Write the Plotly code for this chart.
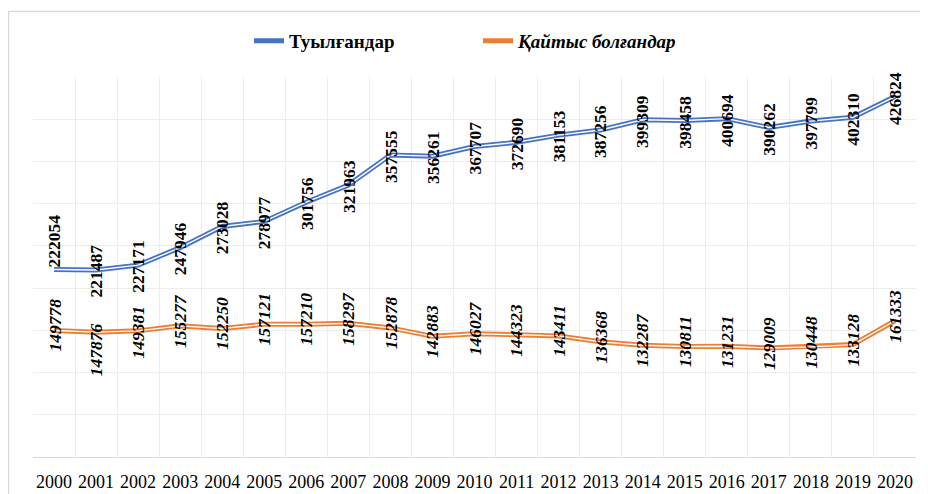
import plotly.graph_objects as go

years = [str(y) for y in range(2000, 2021)]
births = [222054, 221487, 227171, 247946, 273028, 278977, 301756, 321963, 357555, 356261,
          367707, 372690, 381153, 387256, 399309, 398458, 400694, 390262, 397799, 402310, 426824]
deaths = [149778, 147876, 149381, 155277, 152250, 157121, 157210, 158297, 152878, 142883,
          146027, 144323, 143411, 136368, 132287, 130811, 131231, 129009, 130448, 133128, 161333]
series_names = ["Туылғандар", "<i>Қайтыс болғандар</i>"]

BLUE = "#4472C4"
ORANGE = "#ED7D31"
SERIF = "Liberation Serif, Times New Roman, serif"

fig = go.Figure()
for vals, name, col in [(births, series_names[0], BLUE), (deaths, series_names[1], ORANGE)]:
    fig.add_trace(go.Scatter(x=years, y=vals, mode="lines", name=name,
                             line=dict(color=col, width=5), hoverinfo="skip"))
    fig.add_trace(go.Scatter(x=years, y=vals, mode="lines", showlegend=False,
                             line=dict(color="white", width=1.4), hoverinfo="skip"))

annotations = []
for i, v in enumerate(births):
    annotations.append(dict(x=i, y=v, xref="x", yref="y", text=f"<b>{v}</b>",
                            textangle=-90, showarrow=False, xanchor="center", yanchor="middle",
                            yshift=28 if i == 0 else -1.5,
                            font=dict(family=SERIF, size=17.5, color="black")))
for i, v in enumerate(deaths):
    ys = 5
    if i == 1:
        ys = -18
    elif i == 2:
        ys = -1.5
    annotations.append(dict(x=i, y=v, xref="x", yref="y", text=f"<b><i>{v}</i></b>",
                            textangle=-90, showarrow=False, xanchor="center", yanchor="middle",
                            yshift=ys,
                            font=dict(family=SERIF, size=17.5, color="black")))

# the page body adds an 8px offset, so the figure is drawn 8px smaller
fig.update_layout(
    width=920, height=486,
    margin=dict(l=25, r=12, t=69, b=37, autoexpand=False),
    paper_bgcolor="white", plot_bgcolor="white",
    font=dict(family=SERIF, color="black"),
    showlegend=True,
    legend=dict(orientation="h", x=0.2446, xanchor="left", y=1.095, yanchor="middle",
                font=dict(family=SERIF, size=19, color="black", weight="bold"),
                entrywidth=184, bgcolor="rgba(0,0,0,0)"),
    annotations=annotations,
    shapes=[dict(type="rect", xref="paper", yref="paper",
                 x0=-0.0277, x1=1.05, y0=-0.2, y1=1.1724,
                 line=dict(color="#d9d9d9", width=1.5), fillcolor="rgba(0,0,0,0)", layer="below")],
)
fig.update_xaxes(type="category", range=[-0.5, 20.5], tickson="boundaries",
                 showgrid=True, gridcolor="#ececec", gridwidth=1,
                 showline=True, linecolor="#d9d9d9", linewidth=1,
                 ticks="", ticklabelstandoff=8, tickangle=0, automargin=False,
                 tickfont=dict(family=SERIF, size=18, color="black"), fixedrange=True)
fig.update_yaxes(range=[0, 450000], dtick=50000, showticklabels=False, automargin=False,
                 showgrid=True, gridcolor="#ececec", gridwidth=1, zeroline=False,
                 showline=False, fixedrange=True)

fig.write_html("out.html")
